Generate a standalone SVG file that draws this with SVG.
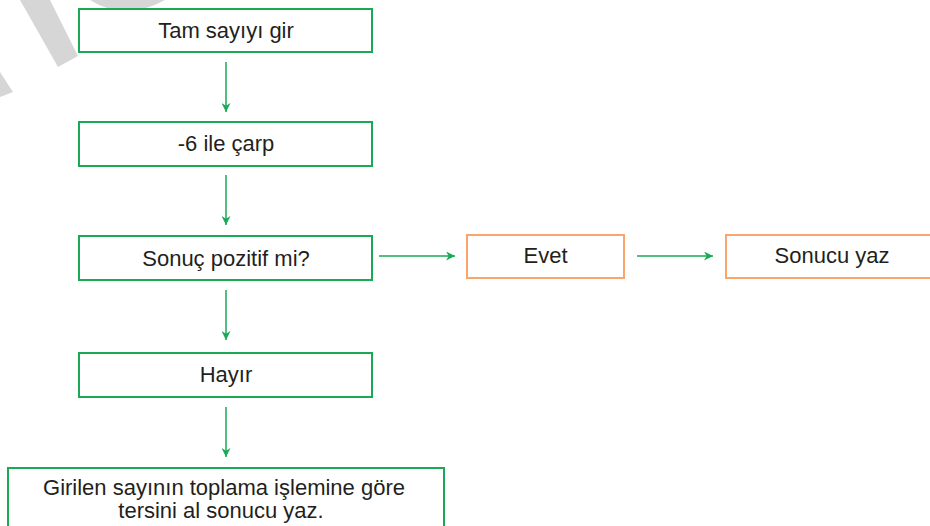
<svg xmlns="http://www.w3.org/2000/svg" width="930" height="526" viewBox="0 0 930 526">
<style>
.g{fill:#fff;stroke:#1aaa55;stroke-width:2}
.o{fill:#fff;stroke:#f9a66c;stroke-width:2}
.t{font-family:"Liberation Sans",Arial,sans-serif;font-size:22px;fill:#231f20;text-anchor:middle}
.c{stroke:#1aaa55;stroke-width:1.5;fill:none}
</style>
<defs>
<marker id="ah" viewBox="0 0 10 10" refX="10" refY="5" markerWidth="9" markerHeight="9" markerUnits="userSpaceOnUse" orient="auto">
<path d="M0,0 L10,5 L0,10 L3,5 Z" fill="#1aaa55"/>
</marker>
</defs>
<g id="watermark" fill="#d6d6d6">
<polygon points="20,0 50,0 78,56 58,67"/>
<polygon points="0,72 13,92 0,97"/>
<path d="M90,0 Q125,22 165,0 Z"/>
</g>
<g id="connectors">
<line class="c" x1="226" y1="62" x2="226" y2="112" marker-end="url(#ah)"/>
<line class="c" x1="226" y1="175" x2="226" y2="225" marker-end="url(#ah)"/>
<line class="c" x1="226" y1="290" x2="226" y2="340" marker-end="url(#ah)"/>
<line class="c" x1="226" y1="407" x2="226" y2="457" marker-end="url(#ah)"/>
<line class="c" x1="379" y1="256" x2="455" y2="256" marker-end="url(#ah)"/>
<line class="c" x1="637" y1="256" x2="713" y2="256" marker-end="url(#ah)"/>
</g>
<g id="n1"><rect class="g" x="79" y="9" width="293" height="43"/><text class="t" x="226" y="38">Tam sayıyı gir</text></g>
<g id="n2"><rect class="g" x="79" y="122" width="293" height="44"/><text class="t" x="226" y="151">-6 ile çarp</text></g>
<g id="n3"><rect class="g" x="79" y="236" width="293" height="44"/><text class="t" x="226" y="266">Sonuç pozitif mi?</text></g>
<g id="n4"><rect class="g" x="79" y="353" width="293" height="44"/><text class="t" x="226" y="382">Hayır</text></g>
<g id="n5"><rect class="g" x="8" y="468" width="436" height="70"/><text class="t" x="224" y="495">Girilen sayının toplama işlemine göre</text><text class="t" x="221" y="518">tersini al sonucu yaz.</text></g>
<g id="n6"><rect class="o" x="467" y="235" width="157" height="43"/><text class="t" x="545.5" y="263">Evet</text></g>
<g id="n7"><rect class="o" x="726" y="235" width="214" height="43"/><text class="t" x="832" y="263">Sonucu yaz</text></g>
</svg>
